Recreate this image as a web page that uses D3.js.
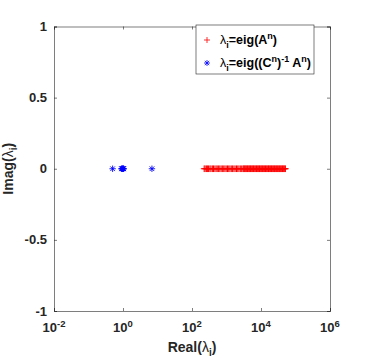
<!DOCTYPE html>
<html>
<head>
<meta charset="utf-8">
<script src="https://cdn.jsdelivr.net/npm/d3@7"></script>
<style>
body { margin: 0; background: #fff; }
text { font-family: "Liberation Sans", Arial, sans-serif; }
</style>
</head>
<body>
<div id="chart"></div>
<script>
// eigenvalues of A^n (all real)
var redReal = [225, 240, 262, 280, 300, 330, 355, 390, 420, 460, 500, 540, 590, 640, 700, 760,
  830, 900, 980, 1070, 1160, 1260, 1380, 1500, 1640, 1780, 1950, 2120, 2300, 2520, 2750, 3000,
  3150, 3300, 3480, 3650, 3850, 4050, 4250, 4480, 4700, 4950, 5200, 5480, 5750, 6050, 6350,
  6700, 7050, 7400, 7800, 8200, 8600, 9050, 9500, 10000, 10500, 11000, 11600, 12200, 12800,
  13500, 14200, 14900, 15700, 16500, 17300, 18200, 19100, 20100, 21100, 22200, 23300, 24500,
  25700, 27000, 28400, 29800, 31300, 32900, 34600, 36300, 38200, 40100, 42100, 44300, 46500,
  48900, 51000];
// eigenvalues of (C^n)^-1 A^n
var blueReal = [0.5, 0.9, 0.93, 0.96, 0.99, 1.0, 1.02, 1.05, 6.9];
var xTicks = [1e-2, 1e0, 1e2, 1e4, 1e6];
var yTicks = [-1, -0.5, 0, 0.5, 1];

var svgWidth = 365, svgHeight = 362;
var margin = {top: 26.5, right: 35, bottom: 51, left: 54};
var width = svgWidth - margin.left - margin.right;
var height = svgHeight - margin.top - margin.bottom;
var axisColor = "#262626";

var svg = d3.select("#chart").append("svg")
  .attr("width", svgWidth)
  .attr("height", svgHeight);

var chartGroup = svg.append("g")
  .attr("transform", `translate(${margin.left}, ${margin.top})`);

var xScale = d3.scaleLog().domain([1e-2, 1e6]).range([0, width]);
var yScale = d3.scaleLinear().domain([-1, 1]).range([height, 0]);

// axes (ticks inward, MATLAB style)
var bottomAxis = d3.axisBottom(xScale).tickValues(xTicks).tickSize(-3).tickFormat("");
var topAxis = d3.axisTop(xScale).tickValues(xTicks).tickSize(-3).tickFormat("");
var leftAxis = d3.axisLeft(yScale).tickValues(yTicks).tickSize(-3).tickFormat("");
var rightAxis = d3.axisRight(yScale).tickValues(yTicks).tickSize(-3).tickFormat("");

chartGroup.append("g").attr("transform", `translate(0, ${height})`).call(bottomAxis);
chartGroup.append("g").call(topAxis);
chartGroup.append("g").call(leftAxis);
chartGroup.append("g").attr("transform", `translate(${width}, 0)`).call(rightAxis);

chartGroup.selectAll(".domain").attr("stroke", axisColor).attr("stroke-width", 0.6);
chartGroup.selectAll(".tick line").attr("stroke", axisColor).attr("stroke-width", 0.6);

// tick labels
xTicks.forEach(function(t) {
  var lbl = chartGroup.append("text")
    .attr("x", xScale(t))
    .attr("y", height + 21)
    .attr("text-anchor", "middle")
    .attr("font-size", "13px")
    .attr("font-weight", "bold")
    .attr("fill", axisColor);
  lbl.append("tspan").text("10");
  lbl.append("tspan").attr("dy", "-5").attr("font-size", "9.5px").text(Math.round(Math.log10(t)));
});

chartGroup.selectAll(".ylabel")
  .data(yTicks)
  .enter()
  .append("text")
  .attr("x", -7)
  .attr("y", d => yScale(d) + 4.5)
  .attr("text-anchor", "end")
  .attr("font-size", "13px")
  .attr("font-weight", "bold")
  .attr("fill", axisColor)
  .text(d => d);

// axis titles
var xt = chartGroup.append("text")
  .attr("x", width / 2)
  .attr("y", height + 41)
  .attr("text-anchor", "middle")
  .attr("font-size", "14px")
  .attr("font-weight", "bold")
  .attr("fill", axisColor);
xt.append("tspan").text("Real(");
xt.append("tspan").attr("font-weight", "normal").text("λ");
xt.append("tspan").attr("dy", 4).attr("font-size", "10px").text("i");
xt.append("tspan").attr("dy", -4).text(")");

var yt = chartGroup.append("text")
  .attr("transform", `translate(${-41}, ${height / 2}) rotate(-90)`)
  .attr("text-anchor", "middle")
  .attr("font-size", "14px")
  .attr("font-weight", "bold")
  .attr("fill", axisColor);
yt.append("tspan").text("Imag(");
yt.append("tspan").attr("font-weight", "normal").text("λ");
yt.append("tspan").attr("dy", 4).attr("font-size", "10px").text("i");
yt.append("tspan").attr("dy", -4).text(")");

// markers
function plusPath(s) {
  return `M${-s},0H${s}M0,${-s}V${s}`;
}
function starPath(s) {
  var d = s * 0.72;
  return `M${-s},0H${s}M0,${-s}V${s}M${-d},${-d}L${d},${d}M${-d},${d}L${d},${-d}`;
}

chartGroup.selectAll(".red")
  .data(redReal)
  .enter()
  .append("path")
  .attr("class", "red")
  .attr("transform", d => `translate(${xScale(d)}, ${yScale(0)})`)
  .attr("d", plusPath(3.3))
  .attr("stroke", "#ff0000")
  .attr("stroke-width", 1)
  .attr("fill", "none");

chartGroup.selectAll(".blue")
  .data(blueReal)
  .enter()
  .append("path")
  .attr("class", "blue")
  .attr("transform", d => `translate(${xScale(d)}, ${yScale(0)})`)
  .attr("d", starPath(3.2))
  .attr("stroke", "#0000ff")
  .attr("stroke-width", 0.9)
  .attr("fill", "none");

// legend
var legend = svg.append("g").attr("transform", "translate(196, 25)");
legend.append("rect")
  .attr("width", 118)
  .attr("height", 49)
  .attr("fill", "#fff")
  .attr("stroke", axisColor)
  .attr("stroke-width", 0.6);

var legendItems = [
  {color: "#ff0000", path: plusPath(3), pre: "=eig(A", post: ")", inv: false},
  {color: "#0000ff", path: starPath(3), pre: "=eig((C", post: ")", inv: true}
];

legendItems.forEach(function(item, i) {
  var cy = 15 + i * 23;
  legend.append("path")
    .attr("transform", `translate(11, ${cy})`)
    .attr("d", item.path)
    .attr("stroke", item.color)
    .attr("stroke-width", 0.8)
    .attr("fill", "none");
  var t = legend.append("text")
    .attr("x", 24)
    .attr("y", cy + 4)
    .attr("font-size", "12.5px")
    .attr("font-weight", "bold")
    .attr("fill", "#000");
  t.append("tspan").attr("font-weight", "normal").text("λ");
  t.append("tspan").attr("dy", 4).attr("font-size", "9px").text("i");
  t.append("tspan").attr("dy", -4).text(item.pre);
  t.append("tspan").attr("dy", -5).attr("font-size", "9px").text("n");
  if (item.inv) {
    t.append("tspan").attr("dy", 5).text(")");
    t.append("tspan").attr("dy", -5).attr("font-size", "9px").text("-1");
    t.append("tspan").attr("dy", 5).text(" A");
    t.append("tspan").attr("dy", -5).attr("font-size", "9px").text("n");
  }
  t.append("tspan").attr("dy", 5).text(item.post);
});
</script>
</body>
</html>
